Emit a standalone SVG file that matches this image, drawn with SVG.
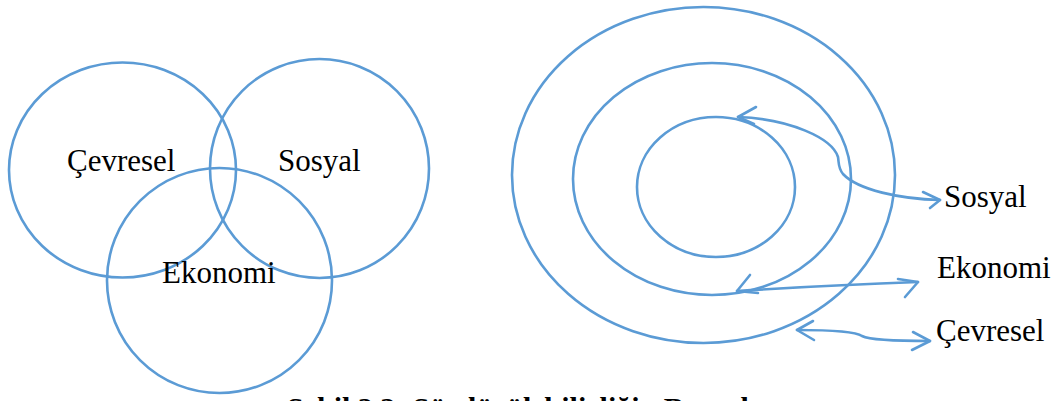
<svg xmlns="http://www.w3.org/2000/svg" width="1056" height="401" viewBox="0 0 1056 401">
<style>
.shape{fill:none;stroke:#5B9BD5;stroke-width:2.6}
.conn{fill:none;stroke:#5B9BD5;stroke-width:2.6;stroke-linecap:round;stroke-linejoin:round}
.lbl{font-family:"Liberation Serif","Times New Roman",serif;font-size:31px;fill:#000}
.cap{font-family:"Liberation Serif","Times New Roman",serif;font-size:30px;font-weight:bold;fill:#000}
</style>
<rect width="1056" height="401" fill="#fff"/>
<g id="venn-cevresel">
<ellipse class="shape" cx="122.5" cy="170" rx="113.5" ry="107.5"/>
<text class="lbl" x="67" y="171">Çevresel</text>
</g>
<g id="venn-sosyal">
<ellipse class="shape" cx="319.5" cy="168.5" rx="109.5" ry="109.5"/>
<text class="lbl" x="278" y="171">Sosyal</text>
</g>
<g id="venn-ekonomi">
<ellipse class="shape" cx="219.5" cy="280.5" rx="112.5" ry="112.5"/>
<text class="lbl" x="162" y="283">Ekonomi</text>
</g>
<g id="ring-cevresel">
<ellipse class="shape" cx="703.5" cy="175" rx="191.5" ry="168"/>
</g>
<g id="ring-ekonomi">
<ellipse class="shape" cx="712" cy="179" rx="139" ry="116"/>
</g>
<g id="ring-sosyal">
<ellipse class="shape" cx="716" cy="187" rx="79" ry="70"/>
</g>
<g id="label-sosyal"><text class="lbl" x="944" y="207">Sosyal</text></g>
<g id="label-ekonomi"><text class="lbl" x="937" y="278">Ekonomi</text></g>
<g id="label-cevresel"><text class="lbl" x="936" y="341">Çevresel</text></g>
<g id="connectors">
<path class="conn" d="M738,117 C790,119 832,138 838,157 C839,163 838,168 843,174 C858,190 900,199 940,200"/>
<polyline class="conn" points="756,107 738,117 754,124"/>
<polyline class="conn" points="923,192 940,200 930,208"/>
<path class="conn" d="M737,291 C800,287 860,284 918,282"/>
<polyline class="conn" points="750,275 737,291 758,293"/>
<polyline class="conn" points="898,279 918,282 905,297"/>
<path class="conn" d="M797,330 C830,330 855,331 862,336 C870,340 900,341 930,341"/>
<polyline class="conn" points="813,321 797,330 814,340"/>
<polyline class="conn" points="913,332 930,341 912,350"/>
</g>
<text class="cap" x="287" y="418">Şekil 2.3: Sürdürülebilirliğin Boyutları</text>
</svg>
